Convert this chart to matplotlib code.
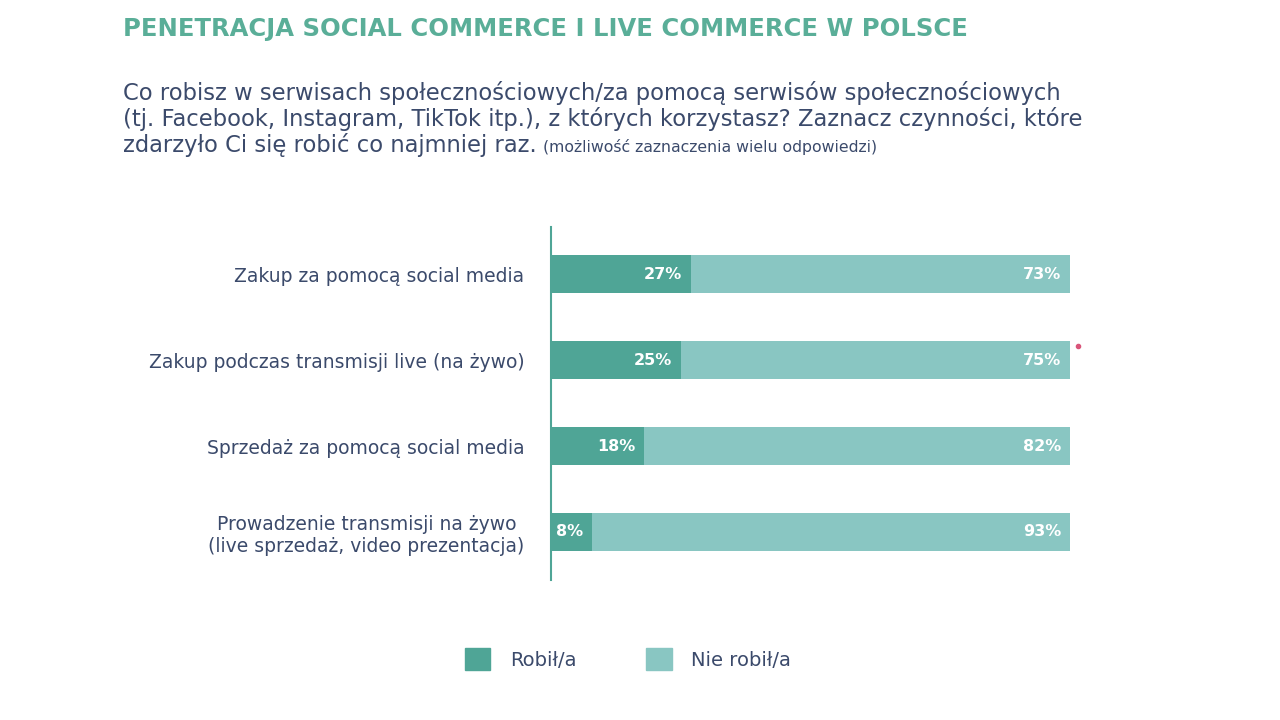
import matplotlib.pyplot as plt
from matplotlib.patches import Patch

plt.rcParams['font.family'] = ['DejaVu Sans']

# dati
categories = [
    "Zakup za pomocą social media",
    "Zakup podczas transmisji live (na żywo)",
    "Sprzedaż za pomocą social media",
    "Prowadzenie transmisji na żywo\n(live sprzedaż, video prezentacja)",
]
did = [27, 25, 18, 8]
did_not = [73, 75, 82, 93]
series_names = ["Robił/a", "Nie robił/a"]

title = "PENETRACJA SOCIAL COMMERCE I LIVE COMMERCE W POLSCE"
question = [
    "Co robisz w serwisach społecznościowych/za pomocą serwisów społecznościowych",
    "(tj. Facebook, Instagram, TikTok itp.), z których korzystasz? Zaznacz czynności, które",
    "zdarzyło Ci się robić co najmniej raz.",
]
note = "(możliwość zaznaczenia wielu odpowiedzi)"

DARK = "#4fa596"
LIGHT = "#89c6c2"
TEAL_TITLE = "#5aae98"
NAVY = "#3b4a6b"

# barre al 100% (8% + 93% = 101%, si normalizza sul totale)
totals = [a + b for a, b in zip(did, did_not)]
did_w = [a / t * 100 for a, t in zip(did, totals)]
did_not_w = [b / t * 100 for b, t in zip(did_not, totals)]

fig = plt.figure(figsize=(12.8, 7.2), dpi=100)
ax = fig.add_axes([551 / 1280, 1 - 580 / 720, (1070 - 551) / 1280, (580 - 227) / 720])

y = list(range(len(categories)))
ax.barh(y, did_w, height=0.44, color=DARK)
ax.barh(y, did_not_w, left=did_w, height=0.44, color=LIGHT)

for i in y:
    ax.annotate(f"{did[i]}%", (did_w[i], i), xytext=(-9, 0), textcoords="offset pixels",
                ha="right", va="center", color="white", fontsize=11.5, fontweight="bold",
                annotation_clip=False)
    ax.annotate(f"{did_not[i]}%", (did_w[i] + did_not_w[i], i), xytext=(-9, 0), textcoords="offset pixels",
                ha="right", va="center", color="white", fontsize=11.5, fontweight="bold",
                annotation_clip=False)

ax.set_xlim(0, 100)
ax.set_ylim(3.56, -0.55)
ax.set_yticks(y)
ax.set_yticklabels(categories, fontsize=13.5, color=NAVY, multialignment="center")
ax.tick_params(axis="y", length=0, pad=19)
ax.set_xticks([])
for s in ["top", "right", "bottom"]:
    ax.spines[s].set_visible(False)
ax.spines["left"].set_color(DARK)
ax.spines["left"].set_linewidth(1.5)

# asterisco rosso
ax.plot([101.5], [0.83], "o", color="#d9557a", markersize=3, clip_on=False)

# titolo e domanda
fig.text(123 / 1280, 1 - 29 / 720, title, fontsize=17.5, fontweight="bold",
         color=TEAL_TITLE, va="center")
for k, line in enumerate(question):
    t = fig.text(123 / 1280, 1 - (93 + 26 * k) / 720, line, fontsize=16.3,
                 color=NAVY, va="center")

fig.canvas.draw()
bb = t.get_window_extent()
fig.text(bb.x1 / 1280 + 6 / 1280, 1 - 147 / 720, note, fontsize=11.3, color=NAVY, va="center")

handles = [Patch(color=DARK), Patch(color=LIGHT)]
fig.legend(handles, series_names, loc="center", bbox_to_anchor=(628 / 1280, 1 - 659 / 720),
           ncol=2, frameon=False, fontsize=14, handlelength=1.3, handleheight=1.3,
           handletextpad=1.0, columnspacing=3.6, labelcolor=NAVY)

fig.savefig("out.png", dpi=100)
